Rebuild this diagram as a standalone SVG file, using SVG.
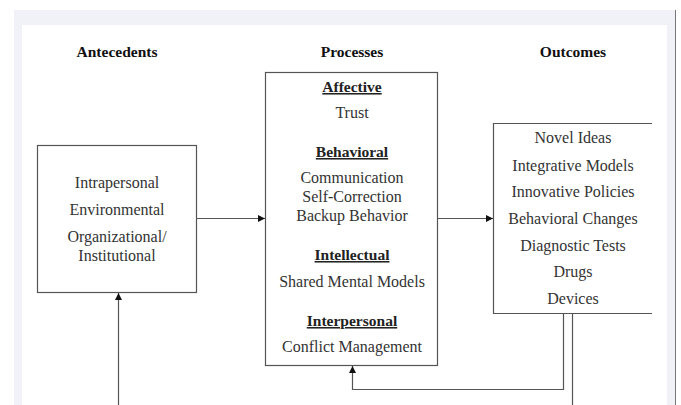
<svg xmlns="http://www.w3.org/2000/svg" width="681" height="405" viewBox="0 0 681 405">
<style>
.box{fill:#fff;stroke:#555;stroke-width:1.2}
.hd{font-family:"Liberation Serif",serif;font-weight:bold;font-size:15.5px;fill:#111;text-anchor:middle}
.sub{font-family:"Liberation Serif",serif;font-weight:bold;font-size:15.5px;fill:#222;text-anchor:middle;text-decoration:underline}
.t{font-family:"Liberation Serif",serif;font-size:16px;fill:#333;text-anchor:middle}
.ln{fill:none;stroke:#555;stroke-width:1.2}
</style>
<defs>
<marker id="ah" viewBox="0 0 10 10" refX="10" refY="5" markerWidth="7" markerHeight="7" markerUnits="userSpaceOnUse" orient="auto">
<path d="M0,0 L10,5 L0,10 z" fill="#111"/>
</marker>
</defs>
<rect x="0" y="0" width="681" height="405" fill="#fff"/>
<rect x="14" y="10" width="661" height="395" fill="#f1f2f7"/>
<rect x="22" y="25" width="645" height="380" fill="#fff"/>
<line x1="675.5" y1="10" x2="675.5" y2="405" stroke="#777" stroke-width="1"/>

<g id="headers">
<text class="hd" x="117" y="57">Antecedents</text>
<text class="hd" x="352" y="57">Processes</text>
<text class="hd" x="573" y="57">Outcomes</text>
</g>

<g id="antecedents">
<rect class="box" x="37.5" y="145.5" width="159" height="147"/>
<text class="t" x="117" y="188">Intrapersonal</text>
<text class="t" x="117" y="215">Environmental</text>
<text class="t" x="117" y="242">Organizational/</text>
<text class="t" x="117" y="261">Institutional</text>
</g>

<g id="processes">
<rect class="box" x="265.5" y="72.5" width="172" height="293"/>
<text class="sub" x="352" y="92">Affective</text>
<text class="t" x="352" y="118">Trust</text>
<text class="sub" x="352" y="157">Behavioral</text>
<text class="t" x="352" y="183">Communication</text>
<text class="t" x="352" y="202">Self-Correction</text>
<text class="t" x="352" y="221">Backup Behavior</text>
<text class="sub" x="352" y="260">Intellectual</text>
<text class="t" x="352" y="287">Shared Mental Models</text>
<text class="sub" x="352" y="326">Interpersonal</text>
<text class="t" x="352" y="352">Conflict Management</text>
</g>

<g id="outcomes">
<rect x="493" y="123" width="159" height="190" fill="#fff"/>
<path class="ln" d="M652,123.5 H493.5 V313.5 H652"/>
<text class="t" x="573" y="143">Novel Ideas</text>
<text class="t" x="573" y="171">Integrative Models</text>
<text class="t" x="573" y="197">Innovative Policies</text>
<text class="t" x="573" y="224">Behavioral Changes</text>
<text class="t" x="573" y="251">Diagnostic Tests</text>
<text class="t" x="573" y="277">Drugs</text>
<text class="t" x="573" y="304">Devices</text>
</g>

<g id="connectors">
<line class="ln" x1="197" y1="218.5" x2="265" y2="218.5" marker-end="url(#ah)"/>
<line class="ln" x1="438" y1="218.5" x2="493" y2="218.5" marker-end="url(#ah)"/>
<line class="ln" x1="118.5" y1="405" x2="118.5" y2="293" marker-end="url(#ah)"/>
<path class="ln" d="M563.5,314 V389.5 H352.5 V366" marker-end="url(#ah)"/>
<line class="ln" x1="572.5" y1="314" x2="572.5" y2="405"/>
</g>
</svg>
